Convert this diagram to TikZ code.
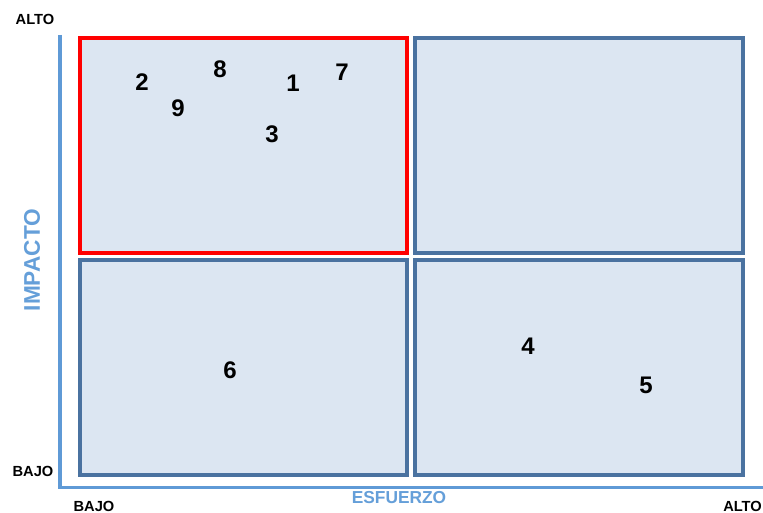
\documentclass[tikz,border=0pt]{standalone}
\usepackage{fontspec}
\setmainfont{Liberation Sans}
\definecolor{boxfill}{HTML}{DCE6F2}
\definecolor{boxline}{HTML}{4A72A0}
\definecolor{axisblue}{HTML}{5F9AD6}
\definecolor{labelblue}{HTML}{659FD9}
\definecolor{hot}{HTML}{FF0000}
\begin{document}
\begin{tikzpicture}[x=0.75pt,y=-0.75pt,
  quad/.style={draw=boxline,fill=boxfill,line width=2.3pt,line join=miter},
  hotquad/.style={draw=hot,fill=boxfill,line width=2.6pt,line join=miter},
  axisline/.style={draw=axisblue,line width=2.3pt},
  num/.style={font=\bfseries\fontsize{18}{20}\selectfont,inner sep=0pt,text=black},
  endlabel/.style={font=\bfseries\fontsize{11}{13}\selectfont,inner sep=0pt,text=black},
  axislabel/.style={font=\bfseries\fontsize{13}{15}\selectfont,inner sep=0pt,text=labelblue}]
\useasboundingbox (0,0) rectangle (763,513);
\fill[white] (0,0) rectangle (763,513);
% quadrants
\path[quad] (415,38) rectangle (743,253);
\path[quad] (80,260) rectangle (407,475);
\path[quad] (415,260) rectangle (743,475);
\path[hotquad] (80,38) rectangle (407,253);
% axes
\coordinate (ytop) at (60,35);
\coordinate (origin) at (60,487.5);
\coordinate (xend) at (764,487.5);
\draw[axisline] (ytop) -- (origin) -- (xend);
% labels
\node[endlabel] (altoy) at (35,19) {ALTO};
\node[endlabel] (bajoy) at (33,471) {BAJO};
\node[endlabel] (bajox) at (94,506) {BAJO};
\node[endlabel,anchor=west] (altox) at (723,506) {ALTO};
\node[axislabel] (esf) at (399,497.5) {ESFUERZO};
\node[axislabel,font=\bfseries\fontsize{17}{19}\selectfont,rotate=90] (imp) at (32,260) {IMPACTO};
% items
\node[num] (n2) at (142,82) {2};
\node[num] (n9) at (178,108) {9};
\node[num] (n8) at (220,69.5) {8};
\node[num] (n1) at (293,83) {1};
\node[num] (n7) at (342,72.5) {7};
\node[num] (n3) at (272,134.5) {3};
\node[num] (n6) at (230,370) {6};
\node[num] (n4) at (528,346) {4};
\node[num] (n5) at (646,385) {5};
\end{tikzpicture}
\end{document}
